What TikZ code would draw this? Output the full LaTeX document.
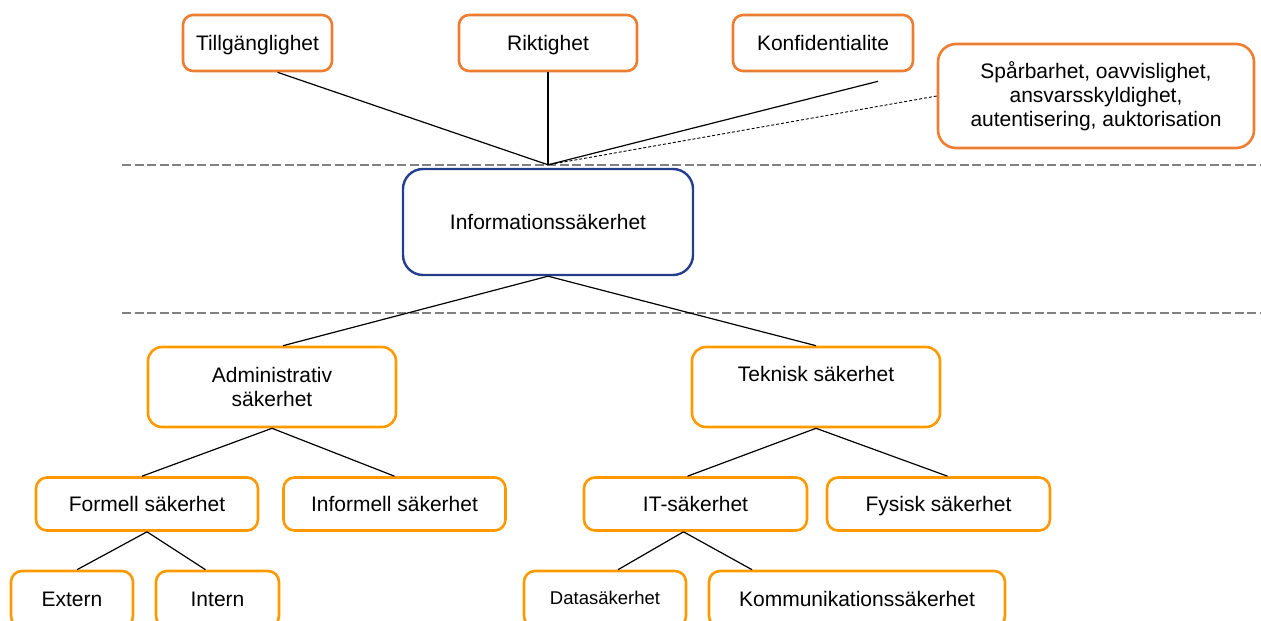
\documentclass[tikz,border=0pt]{standalone}
\usepackage{fontspec}
\setmainfont{Liberation Sans}
\usepackage{tikz}
\usetikzlibrary{positioning}
\definecolor{toporange}{RGB}{237,125,49}
\definecolor{suborange}{RGB}{255,153,0}
\definecolor{mainblue}{RGB}{36,62,140}
\definecolor{sepgray}{RGB}{128,128,128}

\begin{document}
\begin{tikzpicture}[
			x=1pt, y=-1pt,
			every node/.style={font=\fontsize{21}{24}\selectfont, inner sep=0pt, align=center, fill=white},
			enrad/.style={text height=15pt, text depth=0pt},
			topbox/.style={draw=toporange, line width=2.6pt, rounded corners=10pt, minimum height=56pt},
			mainbox/.style={draw=mainblue, line width=2.4pt, rounded corners=20pt},
			subbox/.style={draw=suborange, line width=2.6pt, rounded corners=11pt, minimum height=53pt},
			conn/.style={line width=1.2pt, black},
			sepline/.style={draw=sepgray, line width=2.8pt, dash pattern=on 9pt off 3.5pt},
			]
			\useasboundingbox (0,0) rectangle (1261,621);
			\draw[sepline] (122,165) -- (1261,165);
			\draw[sepline] (122,313) -- (1261,313);

			\node[topbox, enrad, minimum width=149pt] (till) at (257.5,43) {Tillgänglighet};
			\node[topbox, enrad, minimum width=178pt] (rikt) at (548,43) {Riktighet};
			\node[topbox, enrad, minimum width=180pt] (konf) at (823,43) {Konfidentialite};
			\node[topbox, rounded corners=18pt, minimum width=316pt, minimum height=104pt] (spar) at (1096,96) {Spårbarhet, oavvislighet,\\ansvarsskyldighet,\\autentisering, auktorisation};
			\node[mainbox, enrad, minimum width=290pt, minimum height=106pt] (info) at (548,222) {Informationssäkerhet};
			\coordinate (fokus) at ([yshift=3pt]info.north);

			\node[subbox, rounded corners=14pt, minimum width=248pt, minimum height=80pt] (admin) at (272,387) {Administrativ\\säkerhet};
			\node[subbox, rounded corners=14pt, minimum width=248pt, minimum height=80pt, text height=15pt, text depth=27pt] (tek) at (816,387) {Teknisk säkerhet};
			\node[subbox, enrad, minimum width=222pt] (formell) at (147,504) {Formell säkerhet};
			\node[subbox, enrad, minimum width=222pt] (informell) at (394.5,504) {Informell säkerhet};
			\node[subbox, enrad, minimum width=223pt] (it) at (695.5,504) {IT-säkerhet};
			\node[subbox, enrad, minimum width=223pt] (fysisk) at (938.5,504) {Fysisk säkerhet};
			\node[subbox, enrad, minimum width=122pt, minimum height=56pt] (extern) at (72,599) {Extern};
			\node[subbox, enrad, minimum width=123pt, minimum height=56pt] (intern) at (217.5,599) {Intern};
			\node[subbox, minimum width=162pt, minimum height=56pt, font=\fontsize{18.5}{21}\selectfont, text height=13pt, text depth=3pt] (data) at (605,599) {Datasäkerhet};
			\node[subbox, enrad, minimum width=296pt, minimum height=56pt] (komm) at (857,599) {Kommunikationssäkerhet};

			\draw[conn] ([xshift=20pt]till.south) -- (fokus);
			\draw[conn] (rikt.south) -- (fokus);
			\draw[conn] ([xshift=55pt,yshift=-9pt]konf.south) -- (fokus);
			\draw[conn, line width=0.9pt, dash pattern=on 3pt off 2pt] (spar.west) -- (fokus);

			\draw[conn] (info.south) -- ([xshift=11pt]admin.north);
			\draw[conn] (info.south) -- (tek.north);
			\draw[conn] (admin.south) -- ([xshift=-5pt]formell.north);
			\draw[conn] (admin.south) -- (informell.north);
			\draw[conn] (tek.south) -- ([xshift=-8pt]it.north);
			\draw[conn] (tek.south) -- ([xshift=9pt]fysisk.north);
			\draw[conn] (formell.south) -- ([xshift=5pt]extern.north);
			\draw[conn] (formell.south) -- ([xshift=-12pt]intern.north);
			\draw[conn] ([xshift=-12pt]it.south) -- ([xshift=13pt]data.north);
			\draw[conn] ([xshift=-12pt]it.south) -- ([xshift=-105pt]komm.north);
		\end{tikzpicture}
\end{document}
